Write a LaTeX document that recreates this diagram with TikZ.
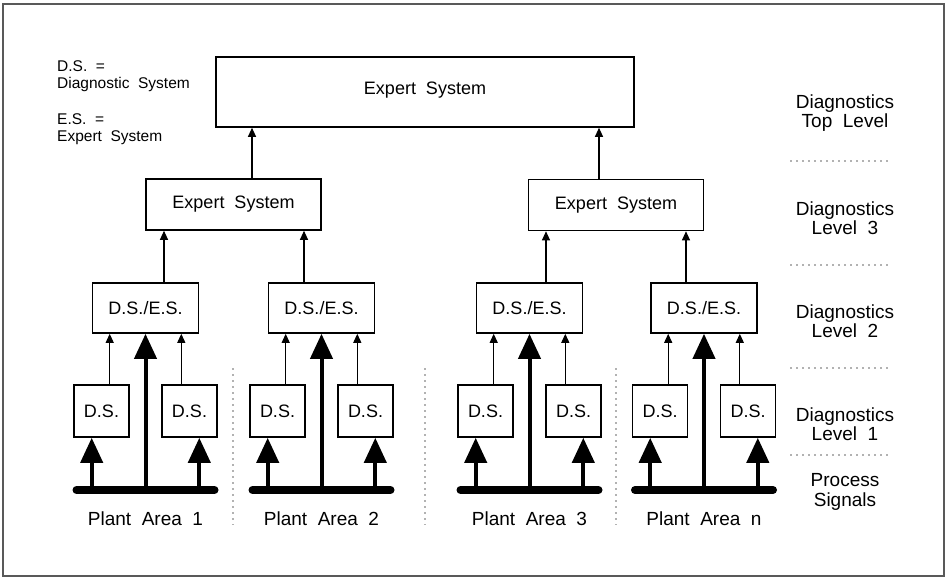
\documentclass[tikz,border=0pt]{standalone}
\usepackage{fontspec}
\setmainfont[WordSpace=2]{Liberation Sans}
\usetikzlibrary{arrows.meta}

\begin{document}
\begin{tikzpicture}[x=1pt,y=-1pt,
  box/.style={draw, line width=1.6pt, inner sep=0pt, align=center,
    font=\fontsize{18}{21}\selectfont},
  topbox/.style={box, minimum width=418pt, minimum height=70pt},
  esbox/.style={box, minimum width=175pt, minimum height=51pt},
  dsesbox/.style={box, minimum width=106pt, minimum height=50pt},
  dsbox/.style={box, minimum width=55pt, minimum height=52pt},
  tarr/.style={line width=1.1pt, -{Triangle[length=9pt,width=8pt]}},
  karr/.style={line width=4pt, -{Triangle[length=25pt,width=22pt]}},
  bus/.style={line width=8pt, line cap=round},
  sep/.style={gray!60, line width=1.2pt, dash pattern=on 2pt off 4pt},
  lvl/.style={align=center, font=\fontsize{19}{19.5}\selectfont},
  legend/.style={anchor=west, align=left, inner sep=0pt,
    font=\fontsize{15.5}{17}\selectfont},
  area/.style={font=\fontsize{19}{21}\selectfont},
  frame/.style={draw=black!65, line width=1.5pt}
]
\useasboundingbox (0,0) rectangle (947,579);
\draw[frame] (3,4) rectangle (944,576);

% legend
\node[legend] (legds) at (57,76) {D.S. =\\Diagnostic System};
\node[legend] (leges) at (57,129.5) {E.S. =\\Expert System};

% top level and level 3
\node[topbox] (top) at (425,92) {\raisebox{7pt}{Expert System}};
\node[esbox] (esL) at (233.5,204.5) {Expert System};
\node[esbox] (esR) at (616,205) {Expert System};

\path (esL.north) ++(18.5,0) coordinate (vL);
\path (esR.north) ++(-17,0) coordinate (vR);
\draw[tarr] (vL) -- (vL |- top.south);
\draw[tarr] (vR) -- (vR |- top.south);

% plant areas: D.S./E.S. box, two D.S. boxes, signal bus
\foreach \n/\c/\lab in {1/145.5/1, 2/321.5/2, 3/529.5/3, 4/704/n} {
  \node[dsesbox] (dses\n) at (\c,308) {D.S./E.S.};
  \node[dsbox] (dsa\n) at (\c-44,411) {D.S.};
  \node[dsbox] (dsb\n) at (\c+44,411) {D.S.};
  \coordinate (busL\n) at (\c-69,490);
  \coordinate (busR\n) at (\c+69,490);
  \coordinate (busC\n) at (\c,490);
  \draw[bus] (busL\n) -- (busR\n);
  % process signals
  \draw[karr] (busC\n) -- (dses\n.south);
  \draw[karr] (dses\n.south west |- busL\n) -- (dses\n.south west |- dsa\n.south);
  \draw[karr] (dses\n.south east |- busR\n) -- (dses\n.south east |- dsb\n.south);
  % D.S. results upwards
  \path (dses\n.south west) ++(18,0) coordinate (ta\n);
  \path (dses\n.south east) ++(-18,0) coordinate (tb\n);
  \draw[tarr] (dsa\n.north -| ta\n) -- (ta\n);
  \draw[tarr] (dsb\n.north -| tb\n) -- (tb\n);
  \node[area] (pa\n) at (\c,519) {Plant Area \lab};
}

% level 2 to level 3
\path (dses1.north) ++(18.5,0) coordinate (u1);
\path (dses2.north) ++(-17.5,0) coordinate (u2);
\path (dses3.north) ++(16.5,0) coordinate (u3);
\path (dses4.north) ++(-18,0) coordinate (u4);
\draw[tarr] (u1) -- (u1 |- esL.south);
\draw[tarr] (u2) -- (u2 |- esL.south);
\draw[tarr] (u3) -- (u3 |- esR.south);
\draw[tarr] (u4) -- (u4 |- esR.south);

% separators between plant areas
\foreach \x in {233,425,616} \draw[sep] (\x,368) -- (\x,525);

% level captions on the right
\node[lvl] (lvtop) at (845,113) {Diagnostics\\Top Level};
\node[lvl] (lv3) at (845,218) {Diagnostics\\Level 3};
\node[lvl] (lv2) at (845,321) {Diagnostics\\Level 2};
\node[lvl] (lv1) at (845,424) {Diagnostics\\Level 1};
\node[lvl] (lvps) at (845,492) {Process\\Signals};
\foreach \y in {161,265,368,455} \draw[sep] (790,\y) -- (890,\y);
\end{tikzpicture}
\end{document}
